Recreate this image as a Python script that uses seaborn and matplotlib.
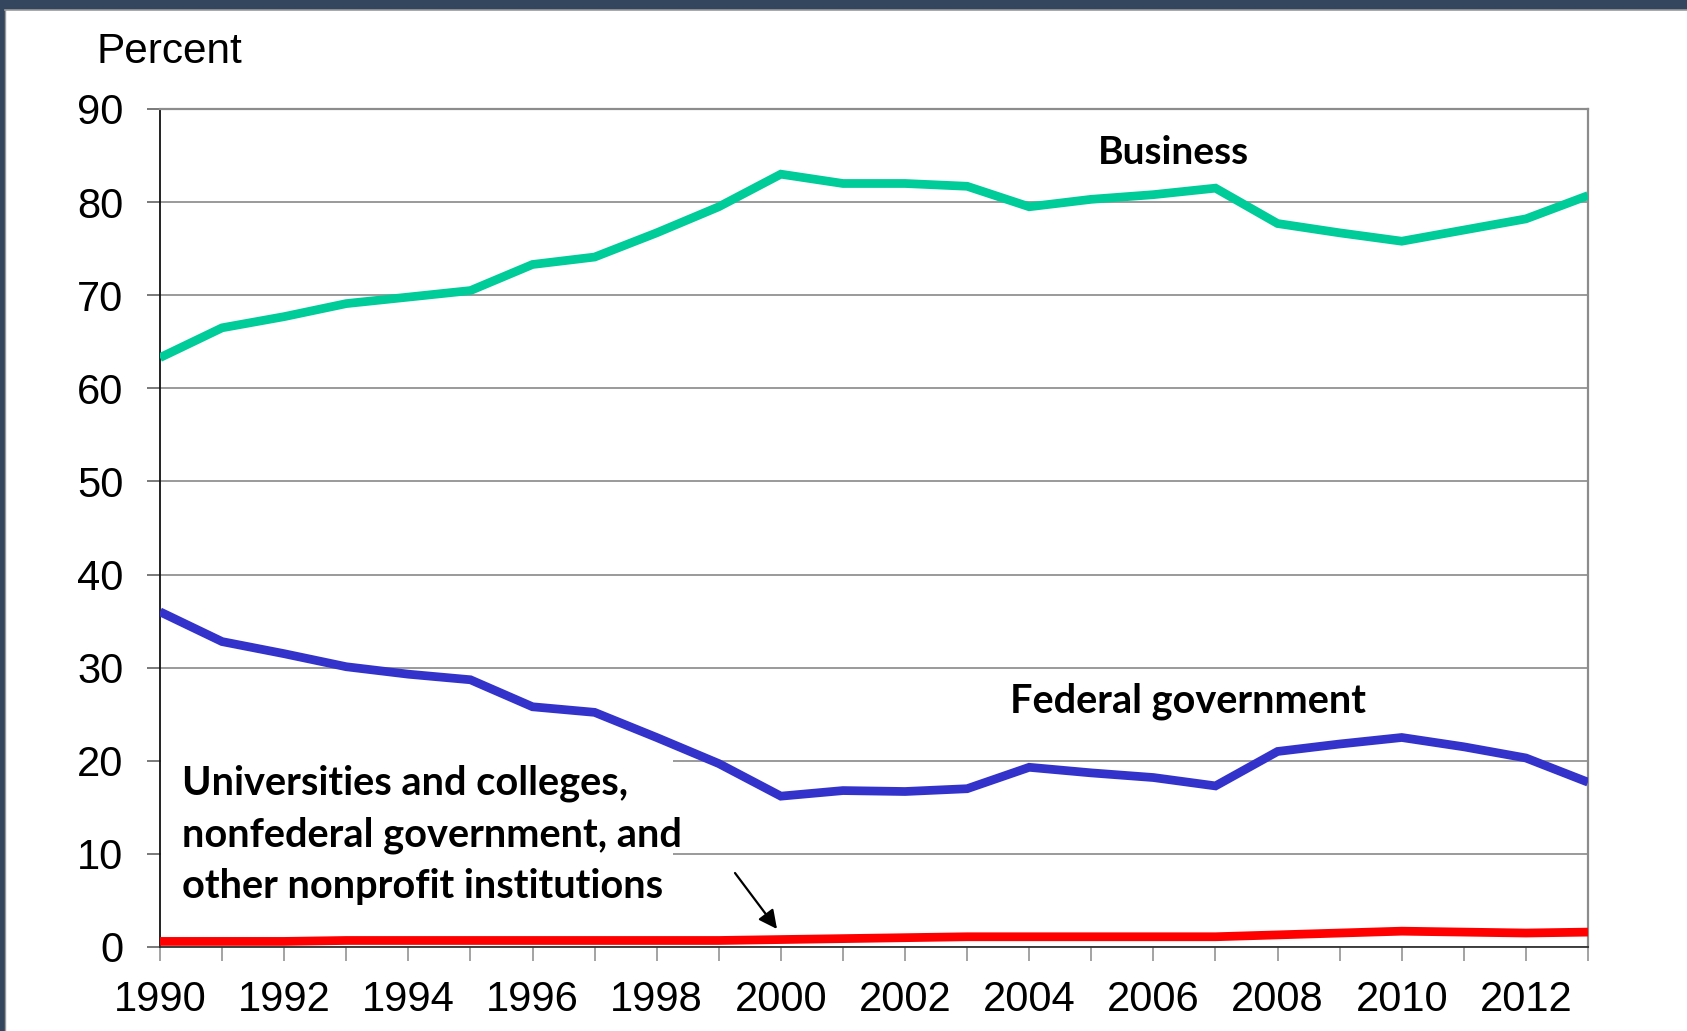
import numpy as np
import pandas as pd
import matplotlib
matplotlib.use("Agg")
import matplotlib.pyplot as plt
from matplotlib.patches import Rectangle
from matplotlib.lines import Line2D
from matplotlib.ticker import MultipleLocator, NullFormatter
import seaborn as sns

# ---- data (percent of U.S. R&D by source of funds) ----
years = list(range(1990, 2014))
business = [63.3, 66.5, 67.7, 69.1, 69.8, 70.5, 73.3, 74.1, 76.7, 79.5, 83.0, 82.0,
            82.0, 81.7, 79.5, 80.3, 80.8, 81.5, 77.7, 76.7, 75.8, 77.0, 78.2, 80.7]
federal = [36.0, 32.8, 31.5, 30.1, 29.3, 28.7, 25.8, 25.2, 22.5, 19.7, 16.2, 16.8,
           16.7, 17.0, 19.3, 18.7, 18.2, 17.3, 21.0, 21.8, 22.5, 21.5, 20.3, 17.7]
other = [0.6, 0.6, 0.6, 0.7, 0.7, 0.7, 0.7, 0.7, 0.7, 0.7, 0.8, 0.9,
         1.0, 1.1, 1.1, 1.1, 1.1, 1.1, 1.3, 1.5, 1.7, 1.6, 1.5, 1.6]
series_names = ["Business", "Federal government", "Other"]
series_colors = ["#00CC99", "#3333CC", "#FF0000"]
y_ticks = [0, 10, 20, 30, 40, 50, 60, 70, 80, 90]
x_tick_labels = [str(y) for y in range(1990, 2013, 2)]
other_label_lines = ["Universities and colleges,",
                     "nonfederal government, and",
                     "other nonprofit institutions"]

df = pd.DataFrame({
    "year": years * 3,
    "percent": business + federal + other,
    "source": sum([[n] * len(years) for n in series_names], []),
})

W, H = 1687, 1031
fig = plt.figure(figsize=(W / 100, H / 100), dpi=100)
fig.patch.set_facecolor("#34455e")
# white slide area (photo strip on top and left)
fig.patches.append(Rectangle((5 / W, 0), 1, (H - 10) / H, transform=fig.transFigure,
                             facecolor="white", edgecolor="none", zorder=-10))
fig.lines.append(Line2D([5 / W, 1], [(H - 10) / H] * 2, transform=fig.transFigure,
                        color="#9a9a9a", lw=1.2, zorder=-9))
fig.lines.append(Line2D([5 / W] * 2, [0, (H - 10) / H], transform=fig.transFigure,
                        color="#9a9a9a", lw=1.0, zorder=-9))

ax = fig.add_axes([160 / W, (H - 947) / H, (1588 - 160) / W, (947 - 109) / H])
ax.set_zorder(2)
ax.set_facecolor("white")
ax.set_axisbelow(True)

sns.lineplot(data=df, x="year", y="percent", hue="source", hue_order=series_names,
             palette=series_colors, linewidth=6.3, legend=False, ax=ax,
             zorder=3)
for ln in ax.get_lines():
    ln.set_solid_capstyle("butt")
    ln.set_solid_joinstyle("miter")

ax.set_xlim(1990, 2013)
ax.set_ylim(0, 90)
ax.set_xlabel("")
ax.set_ylabel("")

ax.yaxis.grid(True, color="#7f7f7f", lw=1.1)
ax.xaxis.grid(False)

ax.set_yticks(y_ticks)
ax.set_yticklabels([str(v) for v in y_ticks])
ax.set_xticks(list(range(1990, 2013, 2)))
ax.set_xticklabels(x_tick_labels)
ax.xaxis.set_minor_locator(MultipleLocator(1))
ax.xaxis.set_minor_formatter(NullFormatter())

tickfont = "Liberation Sans"
for lab in ax.get_xticklabels() + ax.get_yticklabels():
    lab.set_fontfamily(tickfont)
    lab.set_fontsize(30)
    lab.set_color("black")
ax.tick_params(axis="x", which="both", direction="out", length=10, width=1.1,
               color="#8a8a8a", pad=14)
ax.tick_params(axis="y", which="major", direction="out", length=9.5, width=1.1,
               color="#555555", pad=17)

for s in ["top", "right"]:
    ax.spines[s].set_color("#8c8c8c")
    ax.spines[s].set_linewidth(1.6)
ax.spines["left"].set_color("#111111")
ax.spines["left"].set_linewidth(1.3)
ax.spines["bottom"].set_color("#333333")
ax.spines["bottom"].set_linewidth(1.3)

# white box behind the annotation text (hides gridlines)
ax.add_patch(Rectangle((0.0008, (947 - 905) / (947 - 109)), (673 - 161) / 1428,
                       (905 - 754) / (947 - 109), transform=ax.transAxes,
                       facecolor="white", edgecolor="none", zorder=1))

labfont = "Lato"
def fig_px(x, y):
    return x / W, 1 - y / H

fig.text(*fig_px(97, 63), "Percent", fontfamily=tickfont, fontsize=30.5,
         ha="left", va="baseline")
fig.text(*fig_px(1098, 164), "Business", fontfamily=labfont, fontweight="bold",
         fontsize=28, ha="left", va="baseline", zorder=5)
fig.text(*fig_px(1010, 712), "Federal government", fontfamily=labfont,
         fontweight="bold", fontsize=28.5, ha="left", va="baseline", zorder=5)
for i, line in enumerate(other_label_lines):
    fig.text(*fig_px(182, 795 + 51.5 * i), line, fontfamily=labfont,
             fontweight="bold", fontsize=28.6, ha="left", va="baseline", zorder=5)

ax.annotate("", xy=(777, H - 929), xycoords="figure pixels",
            xytext=(735, H - 873), textcoords="figure pixels",
            arrowprops=dict(arrowstyle="-|>", mutation_scale=28, lw=1.6,
                            color="black", shrinkA=0, shrinkB=0))

fig.savefig("out.png", dpi=100, facecolor=fig.get_facecolor())
